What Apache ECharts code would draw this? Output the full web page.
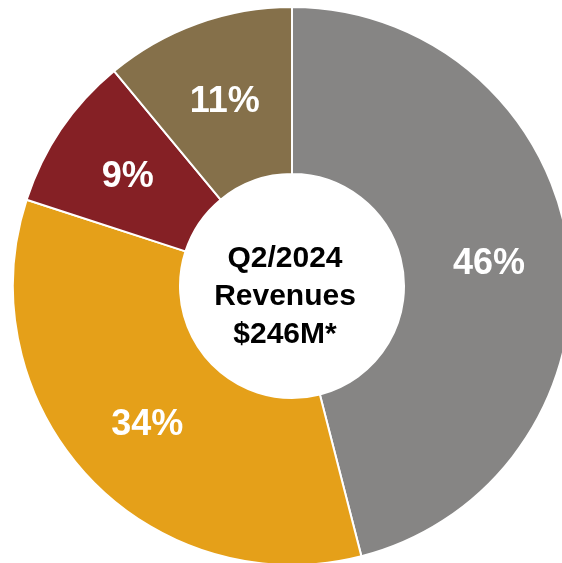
<!DOCTYPE html>
<html>
<head>
<meta charset="utf-8">
<script src="https://cdn.jsdelivr.net/npm/echarts@6/dist/echarts.min.js"></script>
<style>
  html, body { margin: 0; padding: 0; background: #fff; }
  #chart { width: 562px; height: 563px; }
</style>
</head>
<body>
<div id="chart"></div>
<script>
// segments, clockwise from 12 o'clock
const names = ["Gray", "Orange", "Red", "Brown"];
const shares = [46, 34, 9, 11];
const colors = ["#868584", "#E5A019", "#852025", "#85704A"];
const centerLines = ["Q2/2024", "Revenues", "$246M*"];

const chart = echarts.init(document.getElementById("chart"));

const data = names.map((n, i) => ({
  name: n,
  value: shares[i],
  itemStyle: { color: colors[i] }
}));

chart.setOption({
  animation: false,
  title: {
    text: centerLines.join("\n"),
    left: 280,
    top: 292,
    textAlign: "center",
    textVerticalAlign: "middle",
    textStyle: {
      fontFamily: "Liberation Sans",
      fontWeight: "bold",
      fontSize: 30,
      lineHeight: 38,
      color: "#000"
    }
  },
  series: [
    {
      type: "pie",
      center: [292, 286],
      radius: [112, 279],
      startAngle: 90,
      clockwise: true,
      avoidLabelOverlap: false,
      itemStyle: { borderColor: "#fff", borderWidth: 2 },
      label: {
        show: true,
        position: "inside",
        formatter: p => p.value + "%",
        color: "#fff",
        fontFamily: "Liberation Sans",
        fontWeight: "bold",
        fontSize: 36,
        offset: [0, 3]
      },
      labelLine: { show: false },
      emphasis: { disabled: true },
      data: data
    }
  ]
});
</script>
</body>
</html>
